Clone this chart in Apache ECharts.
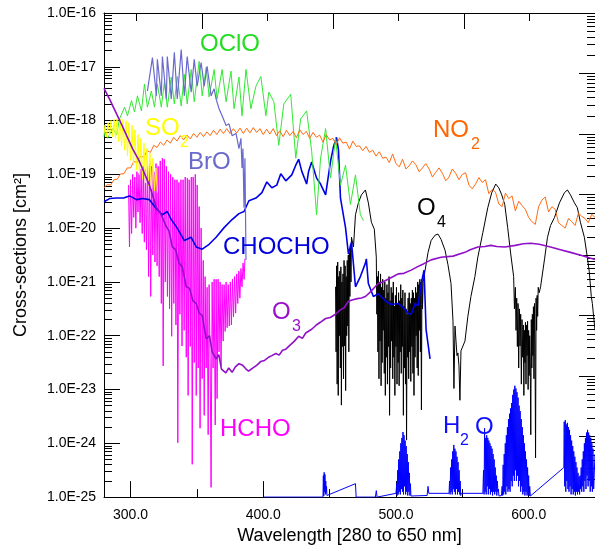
<!DOCTYPE html>
<html>
<head>
<meta charset="utf-8">
<script src="https://cdn.jsdelivr.net/npm/echarts@6/dist/echarts.min.js"></script>
<style>
  html, body { margin: 0; padding: 0; background: #fff; }
  #chart { width: 595px; height: 550px; }
</style>
</head>
<body>
<div id="chart"></div>
<script>
// every spectrum is [wavelength nm, log10(cross-section / cm^2)]
const so2 = [
  [280, -18.24], [280.8, -18.08], [282, -18.30], [283.1, -18.04], [284.2, -18.28], [285.3, -18.00],
  [286.5, -18.30], [287.6, -17.98], [288.7, -18.33], [289.8, -17.97], [291, -18.39], [292.1, -17.97],
  [293.2, -18.46], [294.3, -17.98], [295.5, -18.55], [296.6, -18.00], [297.7, -18.65], [298.8, -18.04],
  [300, -18.74], [301.1, -18.09], [302.2, -18.83], [303.3, -18.17], [304.5, -18.92], [305.6, -18.26],
  [306.7, -19.01], [307.8, -18.33], [309, -19.09], [310.1, -18.42], [311.2, -19.16], [312.3, -18.52],
  [313.5, -19.21], [314.6, -18.61], [315.7, -19.27], [316.8, -18.70], [318, -19.31], [319.1, -18.88],
  [320.2, -19.34]
]

const oclo = [
  [280, -18.30], [280.5, -18.20], [282.7, -18.33], [286.5, -18.15], [289.5, -18.26], [291.7, -17.97],
  [295.5, -17.75], [297.7, -17.91], [300.7, -17.63], [303, -17.84], [305.2, -17.54], [308.2, -17.82],
  [310.5, -17.32], [312.7, -17.75], [315.7, -17.45], [318, -17.75], [320.2, -17.32], [323.2, -17.75],
  [325.5, -17.29], [327.7, -17.75], [330.7, -17.19], [333, -17.69], [335.2, -17.18], [338.2, -17.73],
  [340.5, -17.14], [342.7, -17.69], [345.7, -17.05], [348, -17.65], [351.7, -16.90], [354, -17.54],
  [357, -17.01], [359.2, -17.56], [363, -17.05], [365.2, -17.60], [369, -17.05], [372, -17.65],
  [375.7, -17.08], [378, -17.78], [381.7, -17.19], [384, -17.91], [387, -17.05], [390.7, -17.78],
  [394.5, -17.36], [398.2, -17.18], [402, -17.91], [404.2, -17.47], [408, -17.65], [411.7, -18.46],
  [415.5, -17.69], [420.7, -17.51], [424.5, -18.70], [428.2, -17.97], [432.7, -17.82], [436.5, -18.57],
  [440.2, -19.75], [443.2, -18.70], [447, -18.15], [450.7, -19.07], [454.5, -18.33], [458.2, -19.20],
  [462, -18.83], [465.7, -19.56], [469.5, -19.01], [473.2, -19.75], [475.5, -19.86]
]

const bro = [
  [312.7, -17.45], [316.5, -16.83], [319.5, -17.54], [320.2, -16.86], [323.2, -17.54], [324, -16.81],
  [327, -17.60], [327.7, -16.81], [330.7, -17.60], [333, -16.73], [335.2, -17.60], [338.2, -16.68],
  [340.5, -17.54], [342.7, -16.81], [345.7, -17.47], [348, -16.86], [350.2, -17.36], [353.2, -16.92],
  [355.5, -17.36], [357.7, -16.99], [360.7, -17.54], [363, -17.41], [364.5, -17.60], [366.7, -17.78],
  [369, -17.91], [372, -18.09], [374.2, -18.06], [376.5, -18.28], [379.5, -18.24], [381.7, -18.52],
  [383.2, -18.33], [384, -18.88], [384.7, -18.52], [385.5, -19.62], [386.2, -18.70], [387, -20.59]
]

const no2 = [
  [280, -19.25], [282.5, -19.19], [285, -19.20], [287.5, -19.10], [290, -19.09], [292.5, -18.99],
  [295, -18.99], [297.5, -18.88], [300, -18.88], [302.5, -18.76], [305, -18.78], [307.5, -18.66],
  [310, -18.68], [312.5, -18.56], [315, -18.59], [317.5, -18.46], [320, -18.50], [322.5, -18.40],
  [325, -18.46], [327.5, -18.36], [330, -18.42], [332.5, -18.31], [335, -18.38], [337.5, -18.28],
  [340, -18.36], [342.5, -18.27], [345, -18.34], [347.5, -18.24], [350, -18.31], [352.5, -18.22],
  [355, -18.30], [357.5, -18.21], [360, -18.28], [362.5, -18.18], [365, -18.26], [367.5, -18.16],
  [370, -18.24], [372.5, -18.15], [375, -18.24], [377.5, -18.15], [380, -18.23], [382.5, -18.14],
  [385, -18.24], [387.5, -18.14], [390, -18.23], [392.5, -18.13], [395, -18.22], [397.5, -18.15],
  [400, -18.26], [402.5, -18.16], [405, -18.25], [407.5, -18.15], [410, -18.28], [412.5, -18.19],
  [415, -18.30], [417.5, -18.18], [420, -18.28], [422.5, -18.20], [425, -18.32], [427.5, -18.17],
  [430, -18.26], [432.5, -18.20], [435, -18.33], [437.5, -18.22], [440, -18.31], [442.5, -18.27],
  [445, -18.40], [447.5, -18.26], [450, -18.36], [452.5, -18.33], [455, -18.45], [457.5, -18.32],
  [460, -18.42], [462.5, -18.40], [465, -18.53], [467.5, -18.38], [470, -18.48], [472.5, -18.47],
  [475, -18.56], [477.5, -18.48], [480, -18.59], [482.5, -18.55], [485, -18.66], [487.5, -18.58],
  [490, -18.70], [492.5, -18.68], [495, -18.78], [497.5, -18.62], [500, -18.80], [502.5, -18.86],
  [505, -18.72], [507.5, -18.90], [510, -18.84], [512.5, -18.75], [515, -18.82], [517.5, -18.95],
  [520, -18.88], [522.5, -18.80], [525, -18.90], [527.5, -19.05], [530, -18.96], [532.5, -18.88],
  [535, -18.98], [537.5, -19.12], [540, -19.05], [542.5, -18.90], [545, -18.98], [547.5, -19.10],
  [550, -19.00], [552.5, -18.97], [555, -19.20], [557.5, -19.27], [560, -19.18], [562.5, -19.06],
  [565, -19.15], [567.5, -19.10], [570, -19.36], [572.5, -19.28], [575, -19.33], [577.5, -19.55],
  [580, -19.60], [582.5, -19.35], [585, -19.45], [587.5, -19.40], [590, -19.68], [592.5, -19.50],
  [595, -19.58], [597.5, -19.65], [600, -19.80], [602.5, -19.88], [605, -19.93], [607.5, -19.60],
  [610, -19.48], [612.5, -19.42], [615, -19.70], [617.5, -19.60], [620, -19.65], [622.5, -19.90],
  [625, -19.95], [627.5, -20.00], [630, -19.82], [632.5, -19.88], [635, -19.95], [637.5, -19.72],
  [640, -19.78], [642.5, -19.82], [645, -19.90], [647.5, -19.74], [650, -19.80]
]

const chocho = [
  [280, -19.51], [284.2, -19.45], [289.5, -19.44], [294.7, -19.44], [299.2, -19.40], [304.5, -19.47],
  [309, -19.45], [314.2, -19.47], [319.5, -19.64], [324, -19.75], [327.7, -19.69], [330.7, -19.84],
  [335.2, -20.00], [340.5, -20.23], [345.7, -20.17], [349.5, -20.35], [354, -20.39], [359.2, -20.30],
  [364.5, -20.17], [370.5, -19.99], [376.5, -19.84], [381.7, -19.73], [385.5, -19.69], [389.2, -19.49],
  [394.5, -19.44], [399, -19.34], [402.7, -19.14], [406.5, -19.25], [410.2, -19.20], [413.2, -18.99],
  [417, -19.12], [421.5, -19.01], [424.5, -18.83], [426.7, -18.72], [429, -18.94], [432.7, -19.18],
  [434.2, -18.94], [436.5, -18.77], [440.2, -19.07], [443.2, -19.18], [447, -19.38], [450.7, -18.76],
  [453, -18.48], [455.2, -18.31], [456.7, -18.55], [458.2, -19.44], [462, -19.99], [464.2, -20.48],
  [466.5, -20.26], [469.5, -21.09], [473.2, -20.90], [477, -20.65], [477.7, -20.57], [479.2, -21.03],
  [483, -21.27], [486.7, -21.22], [492, -21.35], [496.5, -21.42], [501.7, -21.40], [507, -21.51],
  [509.2, -21.58], [511.5, -21.60], [514.5, -21.40], [516.7, -21.44], [519, -21.03], [521.2, -20.78],
  [522.7, -21.88], [525.7, -22.43]
]

const hcho = [
  [298.5, -19.20], [299.2, -20.35], [300, -19.10], [300.8, -20.10], [301.6, -19.00], [302.4, -19.80],
  [303.2, -19.05], [304, -20.00], [304.8, -18.95], [305.6, -19.70], [306.4, -18.98], [307.2, -19.90],
  [308, -18.90], [308.8, -20.10], [309.6, -18.85], [310.4, -20.26], [311.2, -18.90], [312, -20.40],
  [312.8, -18.80], [313.6, -20.90], [314.4, -18.76], [315.2, -21.27], [316, -18.85], [316.8, -20.50],
  [317.6, -18.95], [318.4, -20.63], [319.2, -18.80], [320, -20.70], [320.8, -18.85], [321.6, -20.90],
  [322.4, -18.75], [323.2, -21.40], [324, -18.70], [324.6, -22.56], [325.4, -18.72], [326.2, -21.00],
  [327, -18.85], [327.8, -21.27], [328.6, -18.95], [329.4, -21.50], [330.2, -19.00], [331, -22.01],
  [331.8, -19.05], [332.6, -21.40], [333.4, -19.10], [334.2, -21.80], [335, -19.10], [335.6, -23.99],
  [336.4, -19.15], [337.2, -21.60], [338, -19.10], [338.8, -22.19], [339.6, -19.10], [340.4, -21.90],
  [341.2, -19.05], [342, -22.40], [342.8, -19.07], [343.4, -23.11], [344.2, -19.10], [345, -22.20],
  [345.8, -19.05], [346.5, -24.39], [347.2, -19.05], [348, -22.50], [348.8, -19.00], [349.5, -23.11],
  [350.2, -19.20], [351, -22.60], [351.7, -19.60], [352.4, -23.72], [353.2, -20.00], [354, -22.80],
  [354.8, -20.60], [355.5, -23.48], [356.2, -20.90], [357, -22.60], [357.7, -21.10], [358.5, -23.84],
  [359.2, -21.05], [360, -22.50], [360.7, -24.82], [361.5, -21.00], [362.2, -22.60], [363, -20.95],
  [363.8, -23.66], [364.5, -20.95], [365.2, -23.17], [366, -20.95], [366.7, -22.30], [367.5, -21.00],
  [368.2, -22.56], [369, -21.05], [369.8, -22.10], [370.5, -21.05], [371.3, -21.92], [372, -21.00],
  [372.8, -21.85], [373.6, -21.05], [374.4, -21.82], [375.2, -21.00], [376, -21.80], [376.8, -20.95],
  [377.6, -21.65], [378.4, -20.90], [379.2, -21.58], [380, -20.85], [380.8, -21.40], [381.6, -20.80],
  [382.4, -21.30], [383.2, -20.75], [384, -21.09], [384.8, -20.65], [385.6, -20.95], [386.2, -20.57]
]

const o3 = [
  [280, -17.40], [284.2, -17.60], [291.7, -17.99], [301.5, -18.52], [306.7, -18.76], [314.2, -19.20],
  [319.5, -19.62], [322, -19.70], [324, -19.80], [326.5, -19.95], [329, -20.05], [331.5, -20.35],
  [334, -20.40], [336.5, -20.65], [339, -20.72], [342, -21.09], [344.5, -21.12], [347, -21.35],
  [349.5, -21.40], [351.7, -21.58], [354, -21.62], [357, -22.06], [359.5, -22.00], [361.5, -22.30],
  [364.5, -22.43], [366.5, -22.35], [368.5, -22.62], [371.8, -22.69], [374, -22.60], [376.5, -22.68],
  [379, -22.58], [381.7, -22.52], [384.5, -22.55], [387, -22.62], [389, -22.66], [391.5, -22.61],
  [395, -22.55], [398, -22.48], [401, -22.46], [404, -22.40], [406.5, -22.37], [409.5, -22.33],
  [412, -22.36], [414.5, -22.27], [417, -22.25], [420, -22.18], [423.5, -22.10], [426.7, -22.01],
  [429.5, -22.05], [432, -21.95], [436.5, -21.88], [440, -21.80], [443, -21.75], [447, -21.68],
  [450.5, -21.66], [454.5, -21.60], [458, -21.52], [461, -21.48], [464.2, -21.36], [467.5, -21.33],
  [471, -21.31], [474, -21.30], [477, -21.27], [481, -21.18], [484, -21.10], [486.7, -21.03],
  [490, -21.00], [494, -20.95], [498, -20.90], [501.7, -20.85], [506, -20.84], [511.5, -20.78],
  [516, -20.72], [521, -20.66], [526.5, -20.59], [534, -20.54], [543, -20.52], [552, -20.45],
  [556, -20.40], [561.7, -20.35], [567, -20.34], [571.5, -20.32], [576, -20.34], [582, -20.35],
  [590, -20.32], [596, -20.29], [601.5, -20.28], [608, -20.30], [616.5, -20.35], [624, -20.40],
  [631.5, -20.45], [640, -20.51], [648, -20.57], [650, -20.58]
]

const o4 = [
  [454.5, -21.09], [454.9, -22.30], [455.3, -20.70], [455.7, -22.90], [456.1, -20.63], [456.5, -23.11],
  [456.9, -20.90], [457.3, -22.00], [457.7, -20.80], [458.1, -22.60], [458.5, -20.72], [458.9, -23.29],
  [459.3, -21.00], [459.7, -22.20], [460.1, -20.85], [460.5, -22.80], [460.9, -20.60], [461.3, -22.19],
  [461.7, -20.70], [462.1, -23.02], [462.5, -20.90], [462.9, -22.00], [463.3, -20.60], [463.7, -21.82],
  [464.1, -20.50], [464.5, -22.30], [464.9, -20.45], [465.3, -21.27], [465.7, -20.30], [466.1, -21.00],
  [466.5, -20.17], [468, -20.35], [469.5, -19.75], [471.7, -19.53], [474, -19.38], [477, -19.29],
  [479.2, -19.53], [481.5, -19.89], [483.7, -20.02], [485.2, -20.54], [485.6, -21.60], [486, -20.90],
  [486.4, -22.30], [486.8, -20.80], [487.2, -22.80], [487.6, -21.00], [488, -22.10], [488.4, -20.85],
  [488.8, -22.93], [489.2, -21.10], [489.6, -22.50], [490, -20.95], [490.4, -21.90], [490.8, -21.15],
  [491.2, -22.70], [491.6, -21.00], [492, -23.11], [492.4, -21.30], [492.8, -22.40], [493.2, -21.05],
  [493.6, -22.90], [494, -21.20], [494.4, -22.20], [494.8, -20.90], [495.2, -23.48], [495.6, -21.35],
  [496, -22.60], [496.4, -21.10], [496.8, -22.10], [497.2, -21.20], [497.6, -22.80], [498, -21.00],
  [498.4, -22.40], [498.8, -21.45], [499.2, -23.11], [499.6, -21.25], [500, -22.20], [500.4, -21.10],
  [500.8, -22.90], [501.2, -21.40], [501.6, -22.50], [502, -21.20], [502.4, -22.93], [502.8, -21.35],
  [503.2, -22.30], [503.6, -21.05], [504, -22.70], [504.4, -21.30], [504.8, -22.20], [505.2, -21.15],
  [505.6, -23.48], [506, -21.45], [506.4, -22.60], [506.8, -21.20], [507.2, -22.90], [507.6, -21.50],
  [508, -23.94], [508.4, -21.60], [508.8, -22.40], [509.2, -21.30], [509.6, -22.80], [510, -21.20],
  [510.4, -22.30], [510.8, -21.40], [511.2, -22.85], [511.6, -21.30], [512, -22.20], [512.4, -21.15],
  [512.8, -22.70], [513.2, -21.20], [513.6, -23.11], [514, -21.30], [514.4, -22.40], [514.8, -21.10],
  [515.2, -22.00], [515.6, -21.20], [516, -22.60], [516.4, -21.00], [516.8, -22.74], [517.2, -21.05],
  [517.6, -21.90], [518, -20.95], [518.4, -22.30], [518.8, -21.00], [519.2, -23.38], [519.6, -20.95],
  [520, -21.50], [520.5, -21.00], [522, -20.78], [524.2, -20.45], [526.5, -20.23], [529.5, -20.13],
  [531.7, -20.11], [534, -20.21], [537, -20.41], [539.2, -20.68], [541.5, -21.03], [543, -21.73],
  [543.7, -22.98], [544.5, -21.82], [546, -22.37], [546.7, -22.32], [547.5, -22.56], [548.2, -23.20],
  [549, -22.28], [550.5, -22.19], [552, -22.10], [554.2, -21.64], [556.5, -21.27], [559.5, -20.90],
  [561.7, -20.54], [565.5, -20.08], [569.2, -19.62], [572.2, -19.34], [575.2, -19.18], [577.5, -19.25],
  [579.7, -19.38], [582, -19.56], [584.2, -19.99], [586.5, -20.48], [588.7, -20.90], [589.3, -21.50],
  [590, -21.10], [590.5, -21.90], [591, -21.30], [591.5, -22.20], [592, -21.40], [592.5, -22.60],
  [593, -21.50], [593.5, -22.19], [594, -21.60], [594.5, -22.90], [595, -21.70], [595.5, -22.40],
  [596, -21.80], [596.4, -23.11], [596.8, -21.90], [597.2, -22.50], [597.6, -21.75], [598, -22.90],
  [598.4, -21.80], [598.8, -22.37], [599.2, -21.73], [599.6, -23.00], [600, -21.90], [600.4, -22.74],
  [600.8, -22.00], [601.2, -22.50], [601.6, -23.84], [602, -21.70], [602.4, -22.60], [602.8, -21.60],
  [603.2, -22.37], [603.6, -21.46], [604, -22.80], [604.4, -21.40], [604.8, -22.19], [605.2, -24.27],
  [605.6, -21.30], [606, -21.90], [606.4, -21.25], [606.8, -21.64], [607.2, -21.10], [608, -21.20],
  [609, -21.09], [612, -20.57], [614.2, -20.17], [616.5, -19.95], [619.5, -19.80], [623.2, -19.53],
  [627, -19.34], [629.2, -19.29], [631.5, -19.38], [634.5, -19.53], [636.7, -19.62], [639, -19.89],
  [642, -20.17], [644.2, -20.54], [645.7, -20.81], [647.2, -21.27], [648, -21.40], [650, -21.90]
]

const h2o = [
  [400, -25], [445, -25],
  [445.3, -24.60], [445.6, -24.98], [445.9, -24.54], [446.2, -24.90], [446.5, -24.58], [446.8, -24.95],
  [447.1, -24.70], [447.4, -24.92], [447.7, -24.80], [448, -24.97], [448.3, -24.95], [469.5, -24.75],
  [470, -25], [484.5, -25], [485.2, -24.88], [485.8, -25], [500, -24.93],
  [500.6, -24.75], [500.9, -24.97], [501.3, -24.50], [501.7, -24.95], [502.1, -24.30], [502.5, -24.90],
  [502.9, -24.15], [503.3, -24.95], [503.7, -24.00], [504.1, -24.85], [504.5, -23.90], [504.9, -24.90],
  [505.3, -23.79], [505.7, -24.95], [506.1, -23.85], [506.5, -24.80], [506.9, -23.95], [507.3, -24.95],
  [507.7, -24.05], [508.1, -24.90], [508.5, -24.20], [508.9, -24.97], [509.3, -24.35], [509.7, -24.90],
  [510.1, -24.55], [510.5, -24.97], [510.9, -24.75], [511.3, -24.98],
  [523.5, -24.97], [524.2, -24.80], [524.8, -24.93], [540, -24.93],
  [540.4, -24.70], [540.8, -24.95], [541.2, -24.45], [541.6, -24.90], [542, -24.30], [542.4, -24.95],
  [542.8, -24.15], [543.2, -24.85], [543.6, -24.03], [544, -24.90], [544.4, -24.10], [544.8, -24.95],
  [545.2, -24.15], [545.6, -24.85], [546, -24.25], [546.4, -24.95], [546.8, -24.35], [547.2, -24.90],
  [547.6, -24.50], [548, -24.95], [548.4, -24.70], [548.8, -24.97], [549.2, -24.93], [565.5, -24.93],
  [566, -24.50], [566.4, -24.95], [566.8, -23.72], [567.2, -24.90], [567.6, -23.90], [568, -24.95],
  [568.4, -23.85], [568.8, -24.80], [569.2, -23.90], [569.6, -24.95], [570, -23.95], [570.4, -24.85],
  [570.8, -24.00], [571.2, -24.95], [571.6, -24.05], [572, -24.90], [572.4, -24.10], [572.8, -24.97],
  [573.2, -24.20], [573.6, -24.90], [574, -24.30], [574.4, -24.95], [574.8, -24.45], [575.2, -24.90],
  [575.6, -24.60], [576, -24.97], [576.4, -24.70], [576.8, -24.90], [577.2, -24.85], [577.6, -24.98],
  [578.5, -24.95], [579.5, -24.97],
  [580, -24.80], [580.4, -24.97], [580.8, -24.40], [581.2, -24.95], [581.6, -24.20], [582, -24.90],
  [582.4, -24.00], [582.8, -24.95], [583.2, -23.85], [583.6, -24.80], [584, -23.70], [584.4, -24.90],
  [584.8, -23.55], [585.2, -24.85], [585.6, -23.45], [586, -24.90], [586.4, -23.35], [586.8, -24.70],
  [587.2, -23.25], [587.6, -24.80], [588, -23.10], [588.4, -24.60], [588.8, -23.00], [589.2, -24.70],
  [589.6, -22.93], [590, -24.50], [590.4, -22.98], [590.8, -24.70], [591.2, -23.05], [591.6, -24.60],
  [592, -23.15], [592.4, -24.80], [592.8, -23.30], [593.2, -24.70], [593.6, -23.40], [594, -24.90],
  [594.4, -23.55], [594.8, -24.80], [595.2, -23.70], [595.6, -24.95], [596, -23.85], [596.4, -24.90],
  [596.8, -24.00], [597.2, -24.97], [597.6, -24.15], [598, -24.90], [598.4, -24.30], [598.8, -24.97],
  [599.2, -24.45], [599.6, -24.95], [600, -24.60], [600.4, -24.98], [600.8, -24.80], [601.3, -24.98],
  [626.5, -24.45],
  [626.8, -23.60], [627.2, -24.80], [627.6, -23.57], [628, -24.90], [628.4, -23.65], [628.8, -24.70],
  [629.2, -23.62], [629.6, -24.85], [630, -23.70], [630.4, -24.90], [630.8, -23.75], [631.2, -24.80],
  [631.6, -23.85], [632, -24.95], [632.4, -23.95], [632.8, -24.85], [633.2, -24.05], [633.6, -24.95],
  [634, -24.15], [634.4, -24.90], [634.8, -24.25], [635.2, -24.97], [635.6, -24.35], [636, -24.90],
  [636.4, -24.45], [636.8, -24.95], [637.2, -24.55], [637.6, -24.90], [638, -24.62], [638.4, -24.95],
  [638.8, -24.60], [639.2, -24.85], [639.6, -24.45], [640, -24.90], [640.4, -24.30], [640.8, -24.80],
  [641.2, -24.15], [641.6, -24.90], [642, -24.00], [642.4, -24.70], [642.8, -23.90], [643.2, -24.85],
  [643.6, -23.80], [644, -24.60], [644.4, -23.75], [644.8, -24.80], [645.2, -23.80], [645.6, -24.70],
  [646, -23.85], [646.4, -24.90], [646.8, -23.90], [647.2, -24.80], [647.6, -24.00], [648, -24.90],
  [648.4, -24.10], [649, -24.85], [650, -24.20]
]

// axis ticks and labels
const xMajor = [300, 400, 500, 600]
const xMinor = [350, 450, 550]
const topMajor = [353.7, 452.4, 551.1]
const topMinor = [304.4, 403.1, 501.8, 600.5]
const leftDecades = [-25, -16]
const rightDecades = [-24, -16]

const FONT = 'Liberation Sans'

function minorTicks(range) {
  const out = []
  for (let d = range[0]; d < range[1]; d++) {
    for (let k = 2; k <= 9; k++) out.push(d + Math.log10(k))
  }
  return out
}

const lineBlack = { color: '#000', width: 1 }

function tickAxis(position, min, max, opts) {
  return {
    type: 'value',
    position,
    min,
    max,
    interval: opts.interval,
    axisLine: { show: !!opts.line, onZero: false, lineStyle: lineBlack },
    axisTick: { show: true, inside: true, length: opts.len, customValues: opts.ticks, lineStyle: lineBlack },
    axisLabel: { show: false },
    splitLine: { show: false },
  }
}

function spectrum(name, data, color, width) {
  return {
    name,
    type: 'line',
    xAxisIndex: 0,
    yAxisIndex: 0,
    data,
    symbol: 'none',
    showSymbol: false,
    sampling: null,
    lineStyle: { color, width },
    itemStyle: { color },
    silent: true,
    animation: false,
  }
}

// series name tags, with their sub-scripts
const tags = [
  { text: 'OClO', x: 200, y: 44, color: '#22dd22', size: 24 },
  { text: 'SO', x: 145, y: 128, color: '#ffff00', size: 24 },
  { text: '2', x: 180, y: 143, color: '#ffff00', size: 16 },
  { text: 'NO', x: 433, y: 130, color: '#ff6600', size: 24 },
  { text: '2', x: 471, y: 145, color: '#ff6600', size: 16 },
  { text: 'BrO', x: 188, y: 162, color: '#6a6acd', size: 24 },
  { text: 'CHOCHO', x: 223, y: 247, color: '#0000dd', size: 24 },
  { text: 'O', x: 417, y: 208, color: '#000000', size: 24 },
  { text: '4', x: 437, y: 223, color: '#000000', size: 16 },
  { text: 'O', x: 272, y: 312, color: '#9a10c8', size: 24 },
  { text: '3', x: 292, y: 327, color: '#9a10c8', size: 16 },
  { text: 'HCHO', x: 220, y: 429, color: '#ff00ff', size: 24 },
  { text: 'H', x: 443, y: 426, color: '#1010ff', size: 24 },
  { text: '2', x: 460, y: 441, color: '#1010ff', size: 16 },
  { text: 'O', x: 475, y: 427, color: '#1010ff', size: 24 },
]

const chart = echarts.init(document.getElementById('chart'), null, { renderer: 'canvas' })

chart.setOption({
  backgroundColor: '#fff',
  animation: false,
  grid: { left: 104, top: 13, width: 493, height: 490, containLabel: false },
  xAxis: [
    {
      type: 'value',
      position: 'bottom',
      min: 280,
      max: 650,
      axisLine: { show: true, onZero: false, lineStyle: lineBlack },
      axisTick: { show: true, inside: true, length: 16, customValues: xMajor, lineStyle: lineBlack },
      axisLabel: {
        customValues: xMajor,
        formatter: (v) => Number(v).toFixed(1),
        margin: 11,
        color: '#000',
        fontSize: 14,
        fontFamily: FONT,
      },
      splitLine: { show: false },
      name: 'Wavelength [280 to 650 nm]',
      nameLocation: 'middle',
      nameGap: 27,
      nameTextStyle: { color: '#000', fontSize: 18, fontFamily: FONT },
    },
    tickAxis('bottom', 280, 650, { len: 8, ticks: xMinor }),
    tickAxis('top', 280, 650, { len: 16, ticks: topMajor, line: true }),
    tickAxis('top', 280, 650, { len: 8, ticks: topMinor }),
  ],
  yAxis: [
    {
      type: 'value',
      position: 'left',
      min: leftDecades[0],
      max: leftDecades[1],
      interval: 1,
      axisLine: { show: true, onZero: false, lineStyle: lineBlack },
      axisTick: { show: true, inside: true, length: 16, lineStyle: lineBlack },
      axisLabel: {
        formatter: (v) => '1.0E' + v,
        margin: 8,
        color: '#000',
        fontSize: 14,
        fontFamily: FONT,
      },
      splitLine: { show: false },
      name: 'Cross-sections [cm²]',
      nameLocation: 'middle',
      nameRotate: 90,
      nameGap: 74,
      nameTextStyle: { color: '#000', fontSize: 18, fontFamily: FONT },
    },
    tickAxis('left', leftDecades[0], leftDecades[1], { len: 8, ticks: minorTicks(leftDecades) }),
    tickAxis('right', rightDecades[0], rightDecades[1], { len: 16, interval: 1, line: true }),
    tickAxis('right', rightDecades[0], rightDecades[1], { len: 8, ticks: minorTicks(rightDecades) }),
  ],
  series: [
    spectrum('H2O', h2o, '#0000ff', 1),
    spectrum('O4', o4, '#000000', 1),
    spectrum('HCHO', hcho, '#ff00ff', 1),
    spectrum('CHOCHO', chocho, '#0000e6', 1.6),
    spectrum('OClO', oclo, '#33e833', 1),
    spectrum('NO2', no2, '#ff6a10', 1),
    spectrum('BrO', bro, '#6a6acd', 1.2),
    spectrum('SO2', so2, '#ffff00', 1),
    spectrum('O3', o3, '#9010c8', 1.6),
  ],
  graphic: tags.map((t) => ({
    type: 'text',
    x: t.x,
    y: t.y,
    z: 100,
    silent: true,
    style: {
      text: t.text,
      fill: t.color,
      fontSize: t.size,
      fontFamily: FONT,
      align: 'left',
      verticalAlign: 'middle',
    },
  })),
})
</script>
</body>
</html>
